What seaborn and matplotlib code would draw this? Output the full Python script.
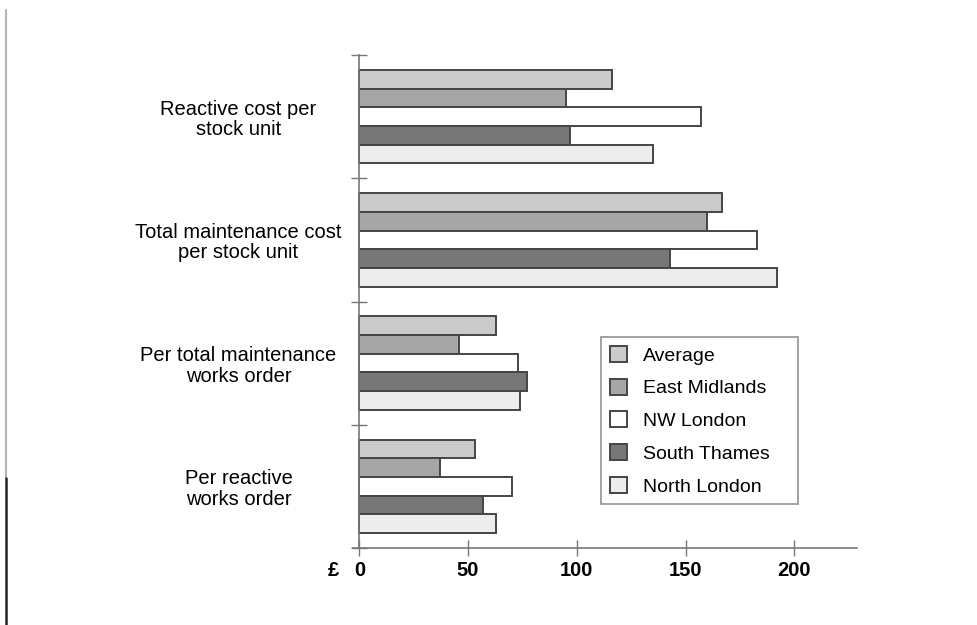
import pandas as pd
import numpy as np
import matplotlib
matplotlib.use("Agg")
import matplotlib.pyplot as plt
import seaborn as sns

# categories (top to bottom) and regions
categories = ["Reactive cost per\nstock unit",
              "Total maintenance cost\nper stock unit",
              "Per total maintenance\nworks order",
              "Per reactive\nworks order"]
regions = ["Average", "East Midlands", "NW London", "South Thames", "North London"]

# values in £, one list per region
average = [116, 167, 63, 53]
east_midlands = [95, 160, 46, 37]
nw_london = [157, 183, 73, 70]
south_thames = [97, 143, 77, 57]
north_london = [135, 192, 74, 63]

region_colors = ["#cbcbcb", "#a6a6a6", "#ffffff", "#777777", "#ededed"]
x_ticks = [0, 50, 100, 150, 200]

rows = []
for reg, vals in zip(regions, [average, east_midlands, nw_london, south_thames, north_london]):
    for cat, v in zip(categories, vals):
        rows.append({"category": cat, "region": reg, "value": v})
df = pd.DataFrame(rows)

sns.set_style("white")
plt.rcParams["font.family"] = ["Liberation Sans", "DejaVu Sans"]
plt.rcParams["text.color"] = "black"
plt.rcParams["xtick.color"] = "black"
plt.rcParams["ytick.color"] = "black"

fig = plt.figure(figsize=(9.78, 6.25), dpi=100)
ax = fig.add_axes([352.8 / 978, 1 - 548 / 625, 504.5 / 978, 493 / 625])

sns.barplot(data=df, y="category", x="value", hue="region", order=categories,
            hue_order=regions, palette=region_colors, orient="h", width=0.76,
            edgecolor="#454545", linewidth=1.4, saturation=1, ax=ax)

ax.set_xlim(-3, 229)
ax.set_ylim(3.5, -0.5)
ax.set_xlabel("")
ax.set_ylabel("")

for s in ["top", "right"]:
    ax.spines[s].set_visible(False)
ax.spines["left"].set_position(("data", 0))
ax.spines["left"].set_color("#777777")
ax.spines["bottom"].set_color("#777777")
ax.spines["left"].set_linewidth(1.2)
ax.spines["bottom"].set_linewidth(1.2)

ax.set_xticks(x_ticks)
ax.set_xticklabels([str(t) for t in x_ticks], fontsize=14.5, fontweight="bold")
ax.tick_params(axis="x", bottom=True, direction="inout", length=12, width=1.0,
               color="#777777", pad=3)

ax.set_yticks(np.arange(len(categories)))
ax.set_yticklabels(categories, fontsize=14.5, ha="center", linespacing=1.1)
ax.tick_params(axis="y", which="major", left=False, length=0, pad=87)
ax.set_yticks(np.arange(len(categories) + 1) - 0.5, minor=True)
ax.tick_params(axis="y", which="minor", left=True, direction="inout", length=11,
               width=1.0, color="#777777")

fig.text(333 / 978, 1 - 571 / 625, "£", fontsize=14.5, fontweight="bold",
         ha="center", va="center")

leg = ax.legend(loc="upper left",
                bbox_to_anchor=(601 / 978, 1 - 506 / 625, 197 / 978, 169 / 625),
                bbox_transform=fig.transFigure, mode="expand", borderaxespad=0,
                fontsize=14, handlelength=0.9, handleheight=0.9, handletextpad=0.8,
                labelspacing=0.72, borderpad=0.45, fancybox=False, frameon=True)
leg.get_frame().set_edgecolor("#777777")
leg.get_frame().set_linewidth(1.2)

# scanned page edge on the left
fig.add_artist(plt.Line2D([6 / 978, 6 / 978], [1 - 478 / 625, 1 - 10 / 625],
                          transform=fig.transFigure, color="#b5b5b5", linewidth=1.5))
fig.add_artist(plt.Line2D([6 / 978, 6 / 978], [0, 1 - 478 / 625],
                          transform=fig.transFigure, color="#222222", linewidth=1.8))

fig.savefig("out.png", dpi=100)
